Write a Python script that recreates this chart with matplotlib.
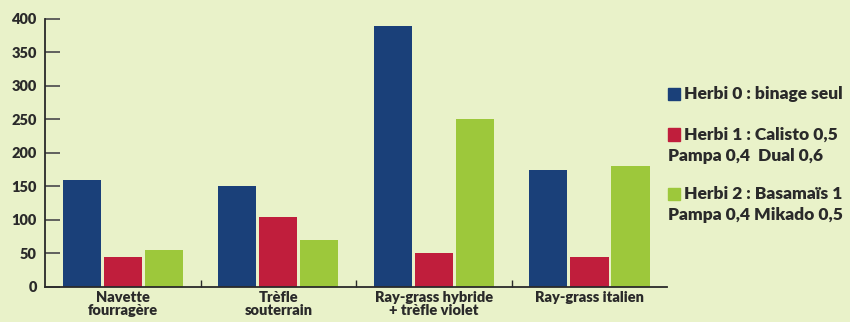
import matplotlib
matplotlib.use("Agg")
import matplotlib.pyplot as plt
import numpy as np
from matplotlib.patches import Rectangle

plt.rcParams['font.family'] = ['Lato', 'DejaVu Sans']
plt.rcParams['font.weight'] = 'heavy'

categories = ["Navette\nfourragère", "Trèfle\nsouterrain",
              "Ray-grass hybride\n+ trèfle violet", "Ray-grass italien"]
herbi0 = [160, 150, 390, 175]
herbi1 = [45, 105, 50, 45]
herbi2 = [55, 70, 250, 180]
series_labels = ["Herbi 0 : binage seul",
                 "Herbi 1 : Calisto 0,5\nPampa 0,4  Dual 0,6",
                 "Herbi 2 : Basamaïs 1\nPampa 0,4 Mikado 0,5"]
yticks = [0, 50, 100, 150, 200, 250, 300, 350, 400]

bg = "#e9f2c9"
colors = ["#1a4079", "#c01e3c", "#9dc83b"]
ink = "#2a2a2a"

fig = plt.figure(figsize=(8.5, 3.22), dpi=100, facecolor=bg)
ax = fig.add_axes([0.053, 0.109, 0.732, 0.832])
ax.set_facecolor(bg)

x = np.arange(len(categories))
width = 0.245
offset = 0.264
for i, (vals, col) in enumerate(zip([herbi0, herbi1, herbi2], colors)):
    ax.bar(x + (i - 1) * offset, vals, width=width, color=col, zorder=2)

ax.set_xlim(-0.5, len(categories) - 0.5)
ax.set_ylim(0, 400)
ax.set_yticks(yticks)
ax.set_yticklabels([str(v) for v in yticks], fontsize=10.5, color=ink)
ax.tick_params(axis='y', direction='in', length=11, width=1.3, color='#555555', pad=6)

ax.set_xticks(x)
ax.set_xticklabels(categories, fontsize=10.5, color=ink, linespacing=1.0)
ax.tick_params(axis='x', length=0, pad=3)
ax.set_xticks(x[:-1] + 0.5, minor=True)
ax.tick_params(axis='x', which='minor', direction='in', length=5, width=1, color=ink)

for side in ['top', 'right']:
    ax.spines[side].set_visible(False)
for side in ['left', 'bottom']:
    ax.spines[side].set_color(ink)
    ax.spines[side].set_linewidth(1.3)

# legend: coloured squares with bold labels, wrapped lines flush left
legend_rows = [0.708, 0.581, 0.397]
for label, col, ytop in zip(series_labels, colors, legend_rows):
    fig.patches.append(Rectangle((0.786, ytop - 0.018), 0.0145, 0.038,
                                 transform=fig.transFigure, color=col))
    lines = label.split("\n")
    fig.text(0.805, ytop, lines[0], fontsize=12.5, color=ink, va='center')
    for k, extra in enumerate(lines[1:], start=1):
        fig.text(0.786, ytop - 0.066 * k, extra, fontsize=12.5, color=ink, va='center')

fig.savefig("out.png", dpi=100, facecolor=bg)
